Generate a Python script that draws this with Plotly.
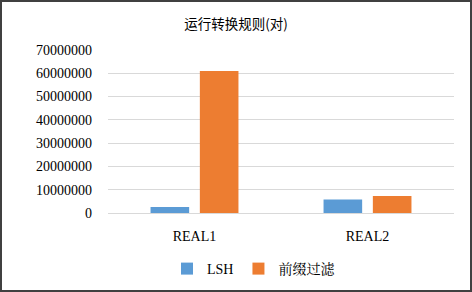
import plotly.graph_objects as go

categories = ["REAL1", "REAL2"]
lsh_values = [2600000, 5800000]
prefix_values = [61000000, 7300000]
series_names = ["LSH", "前缀过滤"]
y_ticks = [0, 10000000, 20000000, 30000000, 40000000, 50000000, 60000000, 70000000]

W, H = 472, 292
ml, mr, mt, mb = 108, 18, 50, 79
pw = W - ml - mr
ph = H - mt - mb

font_fam = "Liberation Serif, Times New Roman, Noto Serif CJK SC, Noto Sans CJK SC, serif"

fig = go.Figure()
fig.add_trace(go.Bar(x=categories, y=lsh_values, name=series_names[0],
                     marker=dict(color="#5B9BD5", line=dict(width=0))))
fig.add_trace(go.Bar(x=categories, y=prefix_values, name=series_names[1],
                     marker=dict(color="#ED7D31", line=dict(width=0))))

fig.update_layout(
    width=W, height=H,
    margin=dict(l=ml, r=mr, t=mt, b=mb, pad=0, autoexpand=False),
    paper_bgcolor="white", plot_bgcolor="white",
    font=dict(family=font_fam, size=14, color="#000000"),
    title=dict(text="运行转换规则(对)", x=0.5, xanchor="center", xref="container",
               y=1 - 24 / H, yref="container", yanchor="middle",
               font=dict(family="Noto Sans CJK SC, sans-serif", size=13.5, color="#000000")),
    barmode="group", bargap=0.43, bargroupgap=0.217,
    showlegend=True,
    legend=dict(orientation="h", x=167 / W, xref="container", xanchor="left",
                y=1 - 269 / H, yref="container", yanchor="middle",
                font=dict(family=font_fam, size=14), bgcolor="rgba(0,0,0,0)"),
    xaxis=dict(showgrid=False, showline=True, linecolor="#d9d9d9", linewidth=1,
               ticks="", ticklabelstandoff=10, tickfont=dict(size=14), automargin=False),
    yaxis=dict(range=[0, 70000000], tickvals=y_ticks, tickformat="d",
               showgrid=True, gridcolor="#d9d9d9", gridwidth=1,
               zeroline=False, showline=False, ticks="", automargin=False,
               ticklabelstandoff=15, tickfont=dict(size=14)),
    shapes=[dict(type="rect", xref="paper", yref="paper",
                 x0=-(ml - 1) / pw, x1=1 + (mr - 1) / pw,
                 y0=-(mb - 1) / ph, y1=1 + (mt - 1) / ph,
                 line=dict(color="#404040", width=2), fillcolor="rgba(0,0,0,0)",
                 layer="above")],
)

fig.write_html("out.html", config={"displayModeBar": False},
               post_script="document.body.style.margin='0';document.body.style.overflow='hidden';")
